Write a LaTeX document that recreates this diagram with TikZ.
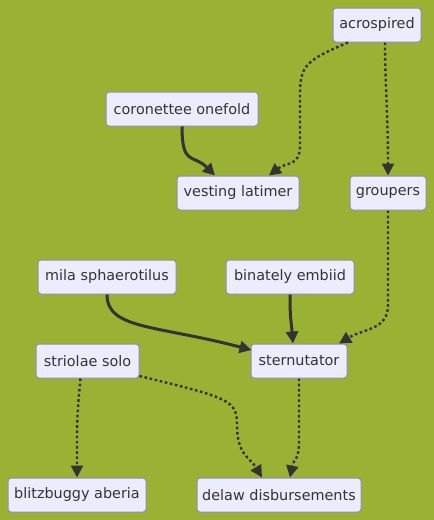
\documentclass[tikz,border=0pt]{standalone}
\usepackage{fontspec}
\setmainfont{DejaVu Sans}
\usetikzlibrary{arrows.meta,calc}
\definecolor{bg}{RGB}{154,178,52}
\definecolor{nodefill}{RGB}{236,236,255}
\definecolor{nodeline}{RGB}{147,137,180}
\definecolor{edge}{RGB}{51,51,51}
\tikzset{
  box/.style={draw=nodeline, fill=nodefill, line width=1pt, rounded corners=3pt,
    minimum height=34pt, inner xsep=2pt, text=edge,
    font=\fontsize{14.4}{16}\selectfont},
  solidedge/.style={draw=edge, line width=3pt, -{Triangle[length=12pt,width=12pt]}},
  dotedge/.style={draw=edge, line width=2.4pt, dash pattern=on 2.6pt off 2.6pt,
    -{Triangle[length=12pt,width=12pt]}},
}
\begin{document}
\begin{tikzpicture}[x=1pt,y=-1pt]
\fill[bg] (0,0) rectangle (434,520);
\useasboundingbox (0,0) rectangle (434,520);
\node[box, minimum width=88pt] (acro) at (377,25) {acrospired};
\node[box, minimum width=152pt] (cor) at (182,109) {coronettee onefold};
\node[box, minimum width=122pt] (vest) at (238,193) {vesting latimer};
\node[box, minimum width=76pt] (grp) at (388,193) {groupers};
\node[box, minimum width=138pt] (mila) at (107,277) {mila sphaerotilus};
\node[box, minimum width=128pt] (bin) at (290,277) {binately embiid};
\node[box, minimum width=103pt] (stri) at (87.5,361) {striolae solo};
\node[box, minimum width=96pt] (stern) at (299,361) {sternutator};
\node[box, minimum width=138pt] (blitz) at (77,495) {blitzbuggy aberia};
\node[box, minimum width=164pt] (delaw) at (279,495) {delaw disbursements};

\draw[solidedge] (cor.south) .. controls +(0,40) and +(-22,-22) .. ($(vest.north)+(-23,0)$);
\draw[dotedge] ($(acro.south)+(-29,0)$) .. controls +(-42,18) and +(0,-30) .. (300,95)
  -- (300,145) .. controls +(0,22) and +(18,-14) .. ($(vest.north)+(31,0)$);
\draw[dotedge] ($(acro.south)+(8,0)$) .. controls +(0,40) and +(0,-60) .. (grp.north);
\draw[dotedge] (grp.south) -- (388,305) .. controls +(0,25) and +(25,-15) .. ($(stern.north)+(40,0)$);
\draw[solidedge] (mila.south) .. controls +(0,35) and +(-95,-25) .. ($(stern.west)+(1,-11)$);
\draw[solidedge] (bin.south) .. controls +(0,25) and +(-2,-25) .. ($(stern.north)+(-6,0)$);
\draw[dotedge] ($(stri.south)+(-7,0)$) .. controls +(-4,40) and +(0,-50) .. (blitz.north);
\draw[dotedge] ($(stri.east)+(0,15)$) .. controls +(90,22) and +(0,-25) .. (237,425)
  .. controls +(0,30) and +(-12,-20) .. ($(delaw.north)+(-17,0)$);
\draw[dotedge] (stern.south) -- (299,440) .. controls +(0,22) and +(4,-20) .. ($(delaw.north)+(11,0)$);
\end{tikzpicture}
\end{document}
